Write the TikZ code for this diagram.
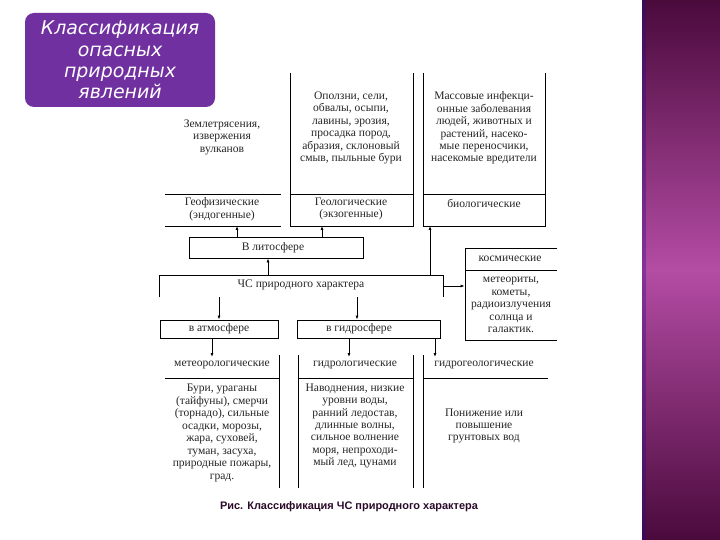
\documentclass[tikz,border=0pt]{standalone}
\usepackage{fontspec}
\setmainfont{Liberation Serif}
\newfontfamily\capfont{Liberation Sans}
\newfontfamily\headfont{DejaVu Sans}
\usetikzlibrary{arrows.meta}
\definecolor{headviolet}{HTML}{7030A0}
\definecolor{bardark}{HTML}{4A0A3C}
\definecolor{barlight}{HTML}{B44CA4}
\definecolor{scanink}{HTML}{262626}
\definecolor{capink}{HTML}{2A0A2A}
\tikzset{
  txt/.style={align=center,inner sep=0pt,text=scanink,
    font=\fontsize{11.6}{12.5}\selectfont},
  frame/.style={draw,inner sep=0pt},
  arr/.style={-{Latex[length=4bp,width=3bp]}}
}

\begin{document}
\begin{tikzpicture}[x=1bp,y=-1bp,line width=0.8bp]

    \useasboundingbox (0,0) rectangle (720,540);
    \fill[white] (0,0) rectangle (720,540);

    % side bar
    \shade[top color=bardark,bottom color=bardark,middle color=barlight]
      (642,0) rectangle (720,540);
    \fill[blue!40!bardark,opacity=0.35]
      (642,0) rectangle (646,540);

    % title
    \fill[headviolet,rounded corners=9bp]
      (25,13) rectangle (215,107);
    \node[align=center,text=white,inner sep=0pt,
      font=\headfont\itshape\fontsize{19}{21.5}\selectfont] (title)
      at (120,60) {Классификация\\опасных\\природных\\явлений};

    % upper columns
    \draw
      (165,194) -- (281,194)
      (165,226) -- (281,226);
    \draw
      (290,73) -- (290,226) -- (413,226) -- (413,73)
      (290,194) -- (413,194);
    \draw
      (423,73) -- (423,226) -- (545,226) -- (545,73)
      (423,194) -- (545,194);

    \node[txt] (zemlya) at (222,137) {Землетрясения,\\извержения\\вулканов};
    \node[txt] (geofiz) at (222,209) {Геофизические\\(эндогенные)};
    \node[txt] (opolzni) at (351,128) {Оползни, сели,\\обвалы, осыпи,\\лавины, эрозия,\\просадка пород,\\абразия, склоновый\\смыв, пыльные бури};
    \node[txt] (geolog) at (351,209) {Геологические\\(экзогенные)};
    \node[txt] (massov) at (484,128) {Массовые инфекци-\\онные заболевания\\людей, животных и\\растений, насеко-\\мые переносчики,\\насекомые вредители};
    \node[txt] (biolog) at (484,203) {биологические};

    \coordinate (geofizS) at (237,226);
    \coordinate (geologS) at (322,226);
    \coordinate (biologS) at (430,226);

    % middle boxes
    \node[frame,minimum width=174bp,minimum height=21bp] (lito)
      at (276,247.5) {};
    \node[txt] (litoT) at (273,247.5) {В литосфере};

    \draw
      (159,297) -- (159,275) -- (443,275) -- (443,297);
    \node[inner sep=0pt,minimum width=284bp,minimum height=22bp] (chs)
      at (301,286) {};
    \node[txt] (chsT) at (301,285) {ЧС природного характера};

    \draw
      (557,248) -- (465,248) -- (465,340) -- (557,340)
      (465,270) -- (557,270);
    \node[inner sep=0pt,minimum width=92bp,minimum height=92bp] (kosm)
      at (511,294) {};
    \node[txt] (kosmH) at (510,259) {космические};
    \node[txt] (kosmB) at (511,305) {метеориты,\\кометы,\\радиоизлучения\\солнца и\\галактик.};

    \node[frame,txt,minimum width=118bp,minimum height=18bp] (atm)
      at (219,329) {в атмосфере};
    \node[frame,minimum width=143bp,minimum height=18bp] (gidro)
      at (368.5,329) {};
    \node[txt] (gidroT) at (359,329) {в гидросфере};

    % lower columns
    \draw
      (279,355) -- (279,488)
      (165,378) -- (279,378);
    \draw
      (298,355) -- (298,488)
      (413,355) -- (413,488)
      (298,378) -- (413,378);
    \draw
      (423,355) -- (423,488)
      (423,378) -- (548,378);

    \node[txt] (meteo) at (222,365) {метеорологические};
    \node[txt] (hydrolog) at (355,365) {гидрологические};
    \node[txt] (hydrogeo) at (484,365) {гидрогеологические};
    \node[txt] (buri) at (222,433) {Бури, ураганы\\(тайфуны), смерчи\\(торнадо), сильные\\осадки, морозы,\\жара, суховей,\\туман, засуха,\\природные пожары,\\град.};
    \node[txt] (navod) at (355,426) {Наводнения, низкие\\уровни воды,\\ранний ледостав,\\длинные волны,\\сильное волнение\\моря, непроходи-\\мый лед, цунами};
    \node[txt] (ponizh) at (484,426) {Понижение или\\повышение\\грунтовых вод};

    \coordinate (meteoN) at (212,357);
    \coordinate (hydrologN) at (349,357);
    \coordinate (hydrogeoN) at (435,357);

    % arrows
    \draw[arr] (lito.north -| geofizS) -- (geofizS);
    \draw[arr] (lito.north -| geologS) -- (geologS);
    \draw[arr] ([xshift=-33bp]chs.north) -- ([xshift=-33bp]chs.north |- lito.south);
    \draw[arr] (chs.north -| biologS) -- (biologS);
    \draw[arr] (chs.east) -- (chs.east -| kosm.west);
    \draw[arr] ([xshift=-82bp]chs.south) -- ([xshift=-82bp]chs.south |- atm.north);
    \draw[arr] ([xshift=56bp]chs.south) -- ([xshift=56bp]chs.south |- gidro.north);
    \draw[arr] (atm.south -| meteoN) -- (meteoN);
    \draw[arr] (gidro.south -| hydrologN) -- (hydrologN);
    \draw[arr] (gidro.south -| hydrogeoN) -- (hydrogeoN);

    % caption
    \node[inner sep=0pt,text=capink,font=\capfont\bfseries\fontsize{11}{13}\selectfont]
      (caption) at (349,507) {Рис. Классификация ЧС природного характера};

\end{tikzpicture}
\end{document}
